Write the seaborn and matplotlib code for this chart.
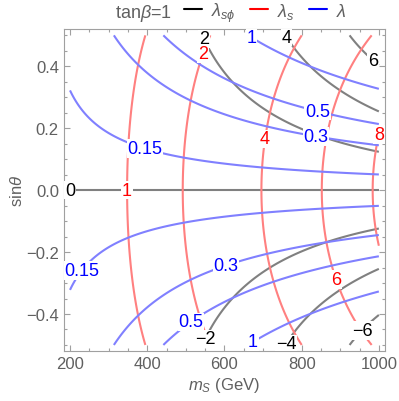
import matplotlib
matplotlib.use("Agg")
import matplotlib.pyplot as plt
from matplotlib.lines import Line2D
from matplotlib.ticker import MultipleLocator
import numpy as np
import seaborn as sns

# model parameters (GeV)
m_h = 125.0
v = 246.0
tan_beta = 1.0
ms_range = [200, 1000]
sin_range = [-0.5, 0.5]

# contour levels
lam_sphi_levels = [-6, -4, -2, 0, 2, 4, 6]
lam_s_levels = [1, 2, 4, 6, 8]
lam_levels = [0.15, 0.3, 0.5, 1]

# where the contour labels sit
lam_sphi_pos = [(200, 0.0), (549, 0.49), (762, 0.495), (985, 0.42),
                (549, -0.48), (764, -0.50), (959, -0.456)]
lam_s_pos = [(347, 0.0), (544, 0.44), (700, 0.167), (1000, 0.18), (886, -0.29)]
lam_pos = [(396, 0.14), (837, 0.17), (842, 0.26), (674, 0.50),
           (230, -0.26), (601, -0.233), (516, -0.43), (674, -0.49)]

sns.set_style("ticks")
plt.rcParams["font.family"] = ["Liberation Sans", "DejaVu Sans"]
plt.rcParams["mathtext.fontset"] = "custom"
plt.rcParams["mathtext.rm"] = "Liberation Sans"
plt.rcParams["mathtext.it"] = "Liberation Sans:italic"

grey = "#606060"

fig = plt.figure(figsize=(3.99, 4.02), dpi=100)
ax = fig.add_axes([0.160, 0.124, 0.805, 0.801])

ms = np.linspace(ms_range[0], ms_range[1], 501)
st = np.linspace(sin_range[0], sin_range[1], 501)
M, S = np.meshgrid(ms, st)
C = np.sqrt(1 - S**2)
v_s = v / tan_beta
lam = (m_h**2 * C**2 + M**2 * S**2) / (2 * v**2)
lam_s = (m_h**2 * S**2 + M**2 * C**2) / (2 * v_s**2)
lam_sphi = (M**2 - m_h**2) * S * C / (v * v_s)


def fmt_int(x):
    return f"{x:.0f}".replace("-", "\u2212")


def fmt_lam(x):
    return f"{x:g}"


cs1 = ax.contour(M, S, lam_sphi, levels=lam_sphi_levels, colors="#808080",
                 linewidths=1.5, linestyles="solid")
cs2 = ax.contour(M, S, lam_s, levels=lam_s_levels, colors="#ff8080", linewidths=1.5)
cs3 = ax.contour(M, S, lam, levels=lam_levels, colors="#8080ff", linewidths=1.5)

texts = []
texts += ax.clabel(cs1, inline=False, fmt=fmt_int, manual=lam_sphi_pos, fontsize=13, colors="black")
texts += ax.clabel(cs2, inline=False, fmt=fmt_int, manual=lam_s_pos, fontsize=13, colors="red")
texts += ax.clabel(cs3, inline=False, fmt=fmt_lam, manual=lam_pos, fontsize=13, colors="blue")
for t in texts:
    t.set_rotation(0)
    t.set_zorder(5)
    t.set_bbox(dict(facecolor="white", edgecolor="none", pad=0.5))

pad_x = 0.02 * (ms_range[1] - ms_range[0])
pad_y = 0.02 * (sin_range[1] - sin_range[0])
ax.set_xlim(ms_range[0] - pad_x, ms_range[1] + pad_x)
ax.set_ylim(sin_range[0] - pad_y, sin_range[1] + pad_y)

ax.xaxis.set_major_locator(MultipleLocator(200))
ax.xaxis.set_minor_locator(MultipleLocator(50))
ax.yaxis.set_major_locator(MultipleLocator(0.2))
ax.yaxis.set_minor_locator(MultipleLocator(0.05))
ax.tick_params(which="both", direction="in", top=True, right=True, color="#a0a0a0",
               labelcolor=grey, labelsize=12, width=0.8)
ax.tick_params(which="major", length=4)
ax.tick_params(which="minor", length=2)
for sp in ax.spines.values():
    sp.set_color("#a0a0a0")
    sp.set_linewidth(0.8)

ax.set_xlabel("$m_S$ (GeV)", fontsize=12, color=grey, labelpad=3)
ax.set_ylabel(r"sin$\theta$", fontsize=12, color=grey, labelpad=1)

# legend on top
fig.text(115 / 399, 1 - 13 / 402, r"tan$\beta$=1", fontsize=13, color=grey,
         ha="left", va="center")
handles = [Line2D([], [], color="black", lw=1.5),
           Line2D([], [], color="red", lw=1.5),
           Line2D([], [], color="blue", lw=1.5)]
labels = [r"$\lambda_{s\phi}$", r"$\lambda_s$", r"$\lambda$"]
leg = fig.legend(handles, labels, loc="center left", bbox_to_anchor=(184 / 399, 1 - 13 / 402),
                 ncol=3, frameon=False, fontsize=13, handlelength=1.0, handletextpad=0.5,
                 columnspacing=0.8, borderaxespad=0, borderpad=0)
for t in leg.get_texts():
    t.set_color(grey)

fig.savefig("out.png", dpi=100)
